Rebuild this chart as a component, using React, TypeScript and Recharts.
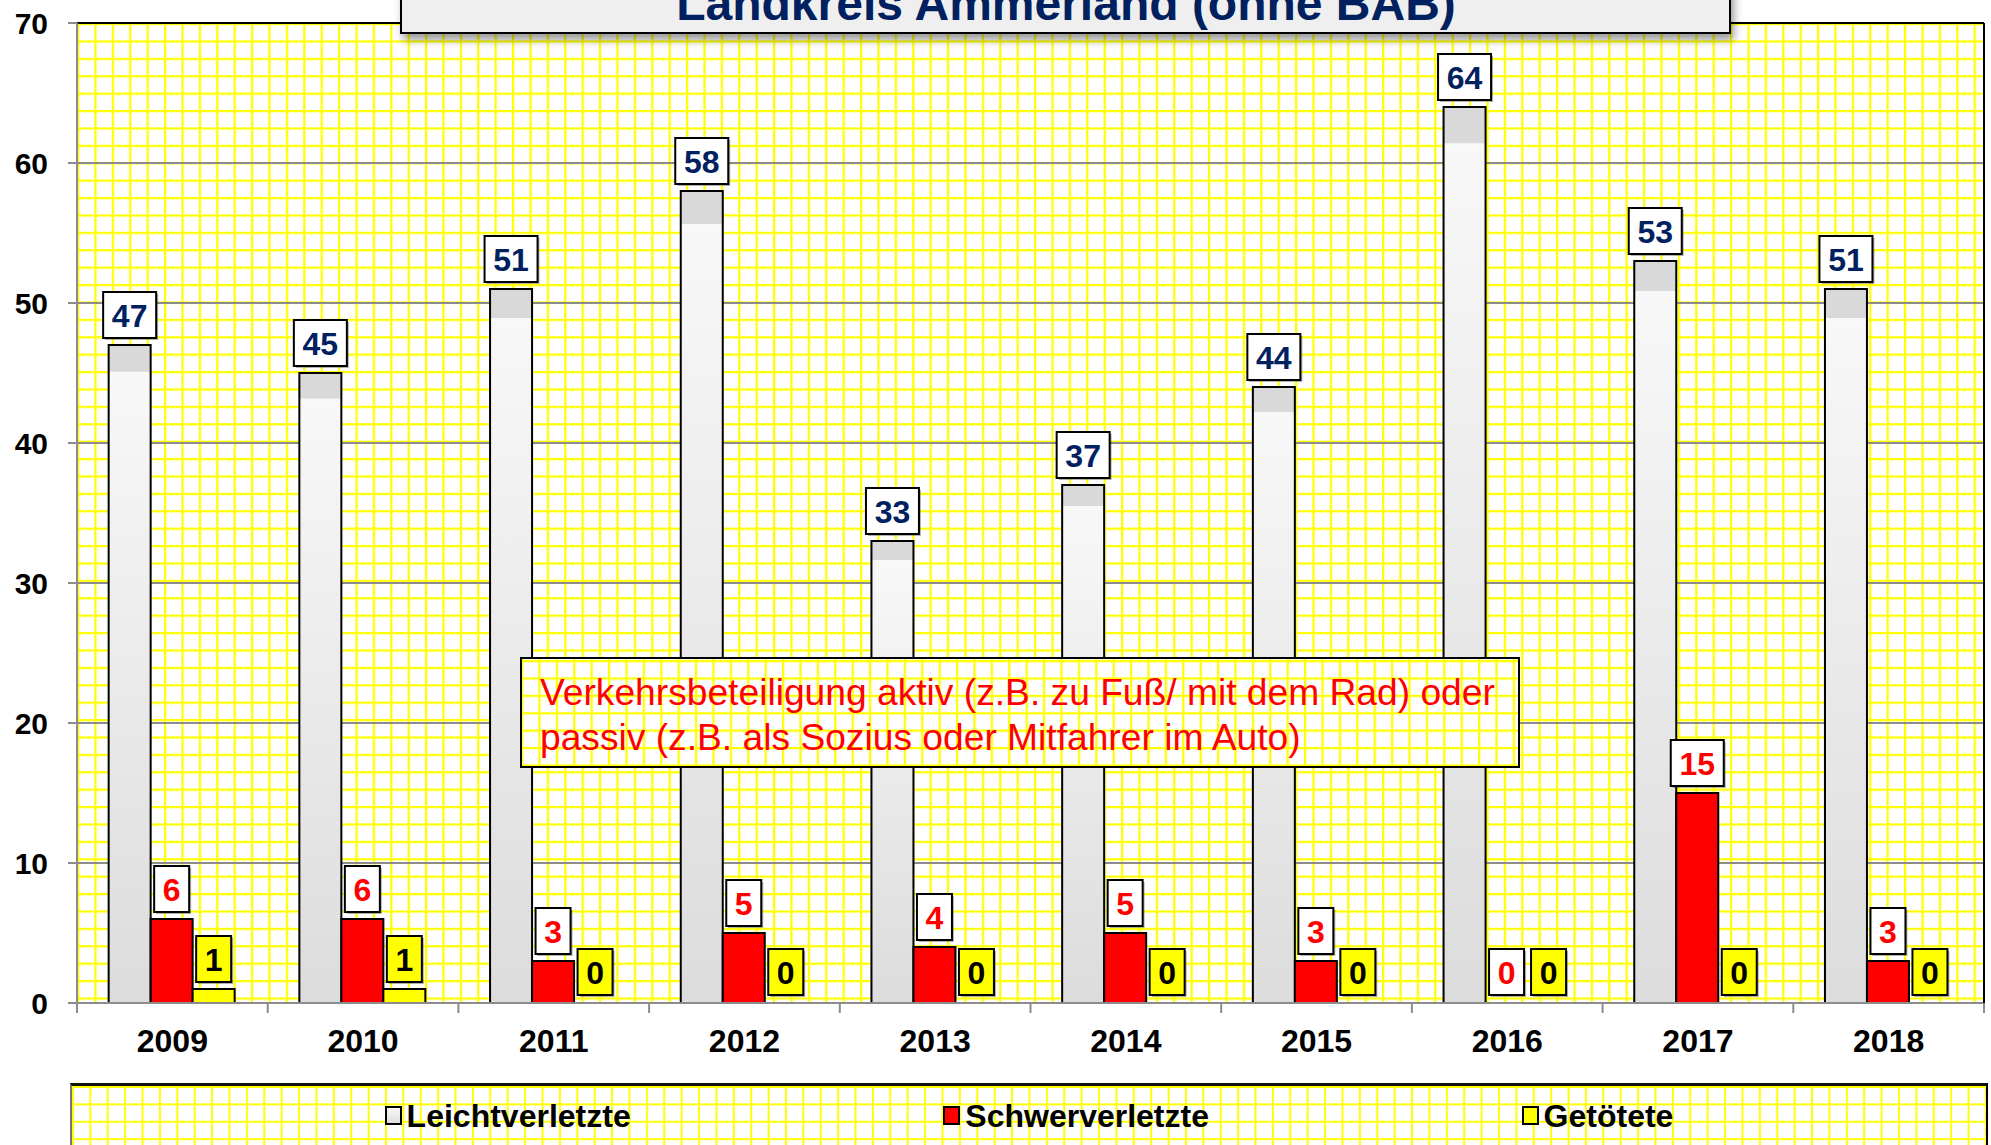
import React from "react";
import { BarChart, Bar, Cell, XAxis, YAxis, CartesianGrid, Legend, LabelList, ReferenceLine } from "recharts";

const YEARS = ["2009", "2010", "2011", "2012", "2013", "2014", "2015", "2016", "2017", "2018"];
const LEICHT = [47, 45, 51, 58, 33, 37, 44, 64, 53, 51];
const SCHWER = [6, 6, 3, 5, 4, 5, 3, 0, 15, 3];
const GETOETET = [1, 1, 0, 0, 0, 0, 0, 0, 0, 0];
const Y_TICKS = [0, 10, 20, 30, 40, 50, 60, 70];
const SERIES_NAMES = ["Leichtverletzte", "Schwerverletzte", "Getötete"];

const TITLE = "Landkreis Ammerland (ohne BAB)";
const NOTE = [
  "Verkehrsbeteiligung aktiv (z.B. zu Fuß/ mit dem Rad) oder",
  "passiv (z.B. als Sozius oder Mitfahrer im Auto)",
];

const data = YEARS.map((jahr, i) => ({
  jahr,
  leicht: LEICHT[i],
  schwer: SCHWER[i],
  getoetet: GETOETET[i],
}));

const FONT = '"Liberation Sans", Arial, sans-serif';
const NAVY = "#002060";
const AXIS_GRAY = "#8c8c8c";
const CELL = 17.4;

const gridCss = {
  backgroundColor: "#fff",
  backgroundImage:
    "linear-gradient(#ffff00 2px, transparent 2px), linear-gradient(90deg, #ffff00 2px, transparent 2px)",
  backgroundSize: `${CELL}px ${CELL}px`,
};

// label box above each bar
function boxLabel(boxFill: string, textColor: string) {
  return function BoxLabel(props: any) {
    const { x, y, width, value } = props;
    const text = String(value);
    const w = text.length * 18 + 17;
    const h = 46;
    const cx = Number(x) + Number(width) / 2;
    const bottom = Number(y) - 7;
    return (
      <g>
        <rect x={cx - w / 2 + 2} y={bottom - h + 2} width={w} height={h} fill="rgba(0,0,0,0.3)" />
        <rect x={cx - w / 2} y={bottom - h} width={w} height={h} fill={boxFill} stroke="#000" strokeWidth={2} />
        <text
          x={cx}
          y={bottom - h / 2 + 11.5}
          textAnchor="middle"
          fontFamily={FONT}
          fontWeight="bold"
          fontSize={32}
          fill={textColor}
        >
          {text}
        </text>
      </g>
    );
  };
}

function YearTick(props: any) {
  const { x, y, payload, index, visibleTicksCount } = props;
  const w = typeof props.width === "number" ? props.width : 1907;
  const band = w / visibleTicksCount;
  return (
    <g>
      <line x1={x - band / 2} y1={y} x2={x - band / 2} y2={y + 10} stroke={AXIS_GRAY} strokeWidth={2} />
      {index === visibleTicksCount - 1 && (
        <line x1={x + band / 2} y1={y} x2={x + band / 2} y2={y + 10} stroke={AXIS_GRAY} strokeWidth={2} />
      )}
      <text x={x} y={y + 49} textAnchor="middle" fontFamily={FONT} fontWeight="bold" fontSize={32} fill="#000">
        {payload.value}
      </text>
    </g>
  );
}

function LegendBox(props: any) {
  const items = [...(props.payload ?? [])].sort(
    (a: any, b: any) => SERIES_NAMES.indexOf(a.value) - SERIES_NAMES.indexOf(b.value)
  );
  return (
    <div
      style={{
        ...gridCss,
        height: 62,
        boxSizing: "border-box",
        borderTop: "3px solid #111",
        borderLeft: "2px solid #777",
        borderRight: "2px solid #000",
        display: "flex",
        justifyContent: "space-evenly",
        alignItems: "center",
      }}
    >
      {items.map((it: any) => (
        <div key={it.value} style={{ display: "flex", alignItems: "center", gap: 5 }}>
          <svg width={17} height={19}>
            <rect x={1} y={1} width={15} height={17} fill={it.color} stroke="#000" strokeWidth={2} />
          </svg>
          <span style={{ fontFamily: FONT, fontWeight: "bold", fontSize: 32, color: "#000", lineHeight: 1 }}>
            {it.value}
          </span>
        </div>
      ))}
    </div>
  );
}

// zero values: keep an invisible 1px bar so the value box is still drawn
const zeroCells = (values: number[], fill: string) =>
  values.map((v, i) => (
    <Cell key={i} fill={v === 0 ? "none" : fill} stroke={v === 0 ? "none" : "#000"} />
  ));

export default function App() {
  return (
    <div style={{ position: "absolute", left: 0, top: 0, width: 1991, height: 1145, overflow: "hidden", background: "#fff" }}>
      <svg width={0} height={0} style={{ position: "absolute" }}>
        <defs>
          <pattern id="ygrid" x={77} y={23} width={CELL} height={CELL} patternUnits="userSpaceOnUse">
            <rect width={CELL} height={CELL} fill="#fff" />
            <rect width={CELL} height={2.2} fill="#ffff00" />
            <rect width={2.2} height={CELL} fill="#ffff00" />
          </pattern>
          <linearGradient id="leichtFill" x1="0" y1="0" x2="0" y2="1">
            <stop offset="0" stopColor="#d9d9d9" />
            <stop offset="0.04" stopColor="#d9d9d9" />
            <stop offset="0.041" stopColor="#f8f8f8" />
            <stop offset="1" stopColor="#dcdcdc" />
          </linearGradient>
        </defs>
      </svg>
      <BarChart
        width={1991}
        height={1145}
        data={data}
        margin={{ top: 23, right: 0, bottom: 0, left: 0 }}
        barCategoryGap="16.6%"
        barGap={0}
      >
        <CartesianGrid vertical={false} stroke={AXIS_GRAY} strokeWidth={2} fill="url(#ygrid)" fillOpacity={1} />
        <XAxis
          dataKey="jahr"
          height={80}
          tickSize={0}
          tickMargin={0}
          tickLine={false}
          axisLine={{ stroke: AXIS_GRAY, strokeWidth: 2 }}
          tick={<YearTick />}
          interval={0}
        />
        <YAxis
          width={77}
          domain={[0, 70]}
          ticks={Y_TICKS}
          interval={0}
          tickSize={9}
          tickMargin={20}
          tickLine={{ stroke: AXIS_GRAY, strokeWidth: 2 }}
          axisLine={{ stroke: AXIS_GRAY, strokeWidth: 2 }}
          tick={{ fill: "#000", fontSize: 30, fontWeight: "bold", fontFamily: FONT }}
        />
        <YAxis
          yAxisId="edge"
          orientation="right"
          width={7}
          domain={[0, 70]}
          tick={false}
          tickLine={false}
          axisLine={{ stroke: "#000", strokeWidth: 2 }}
        />
        <ReferenceLine y={70} stroke="#000" strokeWidth={2} />
        <Legend
          verticalAlign="bottom"
          content={<LegendBox />}
          wrapperStyle={{ left: 70, bottom: 0, width: 1918, height: 62 }}
        />
        <Bar dataKey="leicht" name={SERIES_NAMES[0]} fill="url(#leichtFill)" stroke="#000" strokeWidth={2} isAnimationActive={false}>
          <LabelList dataKey="leicht" content={boxLabel("#fff", NAVY)} />
        </Bar>
        <Bar dataKey="schwer" name={SERIES_NAMES[1]} fill="#ff0000" stroke="#000" strokeWidth={2} minPointSize={1} isAnimationActive={false}>
          {zeroCells(SCHWER, "#ff0000")}
          <LabelList dataKey="schwer" content={boxLabel("#fff", "#ff0000")} />
        </Bar>
        <Bar dataKey="getoetet" name={SERIES_NAMES[2]} fill="#ffff00" stroke="#000" strokeWidth={2} minPointSize={1} isAnimationActive={false}>
          {zeroCells(GETOETET, "#ffff00")}
          <LabelList dataKey="getoetet" content={boxLabel("#ffff00", "#000")} />
        </Bar>
      </BarChart>
      <svg width={1991} height={1145} style={{ position: "absolute", left: 0, top: 0, pointerEvents: "none" }}>
        <defs>
          <pattern id="ygrid2" x={521} y={660} width={CELL} height={CELL} patternUnits="userSpaceOnUse">
            <rect width={CELL} height={CELL} fill="#fff" />
            <rect width={CELL} height={2.2} fill="#ffff00" />
            <rect width={2.2} height={CELL} fill="#ffff00" />
          </pattern>
          <filter id="shadow" x="-5%" y="-20%" width="110%" height="180%">
            <feDropShadow dx={3} dy={6} stdDeviation={4} floodColor="#000" floodOpacity={0.4} />
          </filter>
        </defs>
        <rect x={401} y={-12} width={1329} height={45} fill="#efefef" stroke="#000" strokeWidth={2} filter="url(#shadow)" />
        <text x={1066} y={20} textAnchor="middle" fontFamily={FONT} fontWeight="bold" fontSize={48} fill={NAVY}>
          {TITLE}
        </text>
        <rect x={521} y={658} width={998} height={109} fill="url(#ygrid2)" stroke="#000" strokeWidth={2} />
        {NOTE.map((line, i) => (
          <text key={i} x={540} y={705 + i * 45} fontFamily={FONT} fontSize={37.2} fill="#ff0000">
            {line}
          </text>
        ))}
      </svg>
    </div>
  );
}
